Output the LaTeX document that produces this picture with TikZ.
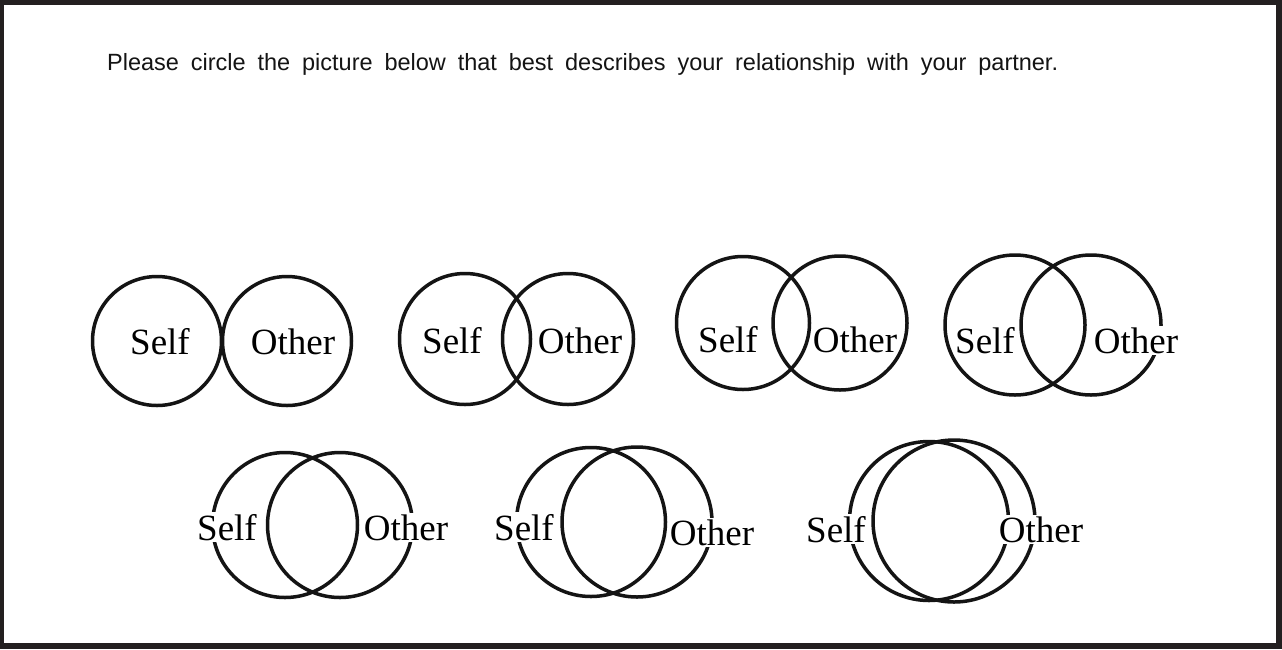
\documentclass[tikz,border=0pt]{standalone}
\usepackage{fontspec}
\setmainfont{Liberation Serif}
\newfontfamily\titlefont{Liberation Sans}
\definecolor{framegray}{HTML}{231F20}
\tikzset{
	ring/.style={line width=3.5pt, draw=black!92},
	lbl/.style={fill=white, inner sep=1.5pt, anchor=base, font=\fontsize{37}{37}\selectfont}
}

\begin{document}
\begin{tikzpicture}[x=1pt,y=-1pt]
	\useasboundingbox (0,0) rectangle (1282,649);
	\fill[framegray] (0,0) rectangle (1282,649);
	\fill[white] (4,5) rectangle (1276,643);

	\node[anchor=base west, inner sep=0pt, text=black!92, font=\titlefont\fontsize{23.5}{23.5}\selectfont] (title) at (107,70)
		{\makebox[951pt][s]{Please circle the picture below that best describes your relationship with your partner.}};

	% first row
	\coordinate (s1) at (157,341);
	\coordinate (o1) at (287,341);
	\coordinate (s2) at (465,339);
	\coordinate (o2) at (568,339);
	\coordinate (s3) at (743,323);
	\coordinate (o3) at (840,323);
	\coordinate (s4) at (1015,325);
	\coordinate (o4) at (1091,325);

	% second row
	\coordinate (s5) at (285,525);
	\coordinate (o5) at (340,525);
	\coordinate (s6) at (591,522);
	\coordinate (o6) at (637,522);
	\coordinate (s7) at (929,521);
	\coordinate (o7) at (954,521);

	\draw[ring] (s1) circle [radius=64.5];
	\draw[ring] (o1) circle [radius=64.5];
	\draw[ring] (s2) circle [radius=65.5];
	\draw[ring] (o2) circle [radius=65.5];
	\draw[ring] (s3) circle [radius=66.5];
	\draw[ring] (o3) circle [radius=67];
	\draw[ring] (s4) circle [radius=70];
	\draw[ring] (o4) circle [radius=70];
	\draw[ring] (s5) circle [radius=72.5];
	\draw[ring] (o5) circle [radius=72.5];
	\draw[ring] (s6) circle [radius=74.5];
	\draw[ring] (o6) circle [radius=75];
	\draw[ring] (s7) circle [radius=79.5];
	\draw[ring] (o7) circle [radius=81];

	\node[lbl] (self1) at (160,354) {Self};
	\node[lbl] (other1) at (293,354) {Other};
	\node[lbl] (self2) at (452,353) {Self};
	\node[lbl] (other2) at (580,353) {Other};
	\node[lbl, fill=none] (self3) at (728,352) {Self};
	\node[lbl, fill=none] (other3) at (855,352) {Other};
	\node[lbl] (self4) at (985,353) {Self};
	\node[lbl] (other4) at (1136,353) {Other};
	\node[lbl] (self5) at (227,540) {Self};
	\node[lbl] (other5) at (406,540) {Other};
	\node[lbl] (self6) at (524,540) {Self};
	\node[lbl] (other6) at (712,545) {Other};
	\node[lbl] (self7) at (836,542) {Self};
	\node[lbl] (other7) at (1041,542) {Other};
\end{tikzpicture}
\end{document}
